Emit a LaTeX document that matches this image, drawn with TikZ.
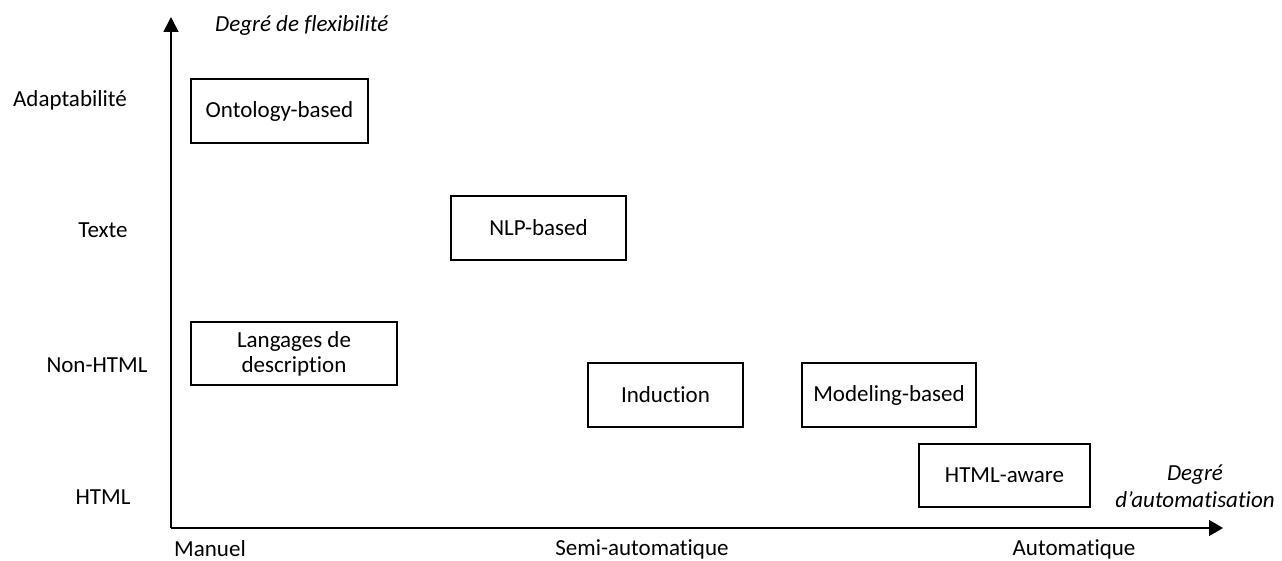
\documentclass[tikz,border=0pt]{standalone}
\usepackage{fontspec}
\setmainfont{Carlito}[Ligatures=NoCommon]
\usetikzlibrary{arrows.meta}
\begin{document}
\begin{tikzpicture}[x=1pt,y=-1pt,
  every node/.style={font=\fontsize{23}{25}\selectfont, inner sep=0pt},
  axis/.style={line width=1.6pt},
  catbox/.style={draw, line width=1.6pt, align=center},
  axlabel/.style={font=\fontsize{23}{27}\selectfont\itshape, align=center}]
  \useasboundingbox (0,0) rectangle (1282,561);

  % axes
  \coordinate (o) at (171,528);
  \coordinate (ytop) at (171,17);
  \coordinate (xend) at (1223,528);
  \draw[axis, -{Triangle[length=15pt,width=15pt]}] (o) -- (ytop);
  \draw[axis, -{Triangle[length=14pt,width=16pt]}] (o) -- (xend);

  % axis titles
  \node[axlabel, anchor=west] (ytitle) at (215,25) {Degré de flexibilité};
  \node[axlabel] (xtitle) at (1195,486) {Degré\\d’automatisation};

  % levels along the vertical axis
  \node (adapt) at (70,100) {Adaptabilité};
  \node (texte) at (103,230) {Texte};
  \node (nonhtml) at (97,365) {Non-HTML};
  \node (html) at (103,497) {HTML};

  % levels along the horizontal axis
  \node (manuel) at (210,549) {Manuel};
  \node (semi) at (642,549) {Semi-automatique};
  \node (auto) at (1074,549) {Automatique};

  % approaches
  \node[catbox, minimum width=177pt, minimum height=64pt] (onto) at (279.5,111) {Ontology-based};
  \node[catbox, minimum width=175pt, minimum height=64pt] (nlp) at (538.5,228) {NLP-based};
  \node[catbox, minimum width=206pt, minimum height=63pt] (lang) at (294,353.5) {Langages de\\description};
  \node[catbox, minimum width=155pt, minimum height=64pt] (induc) at (665.5,395) {Induction};
  \node[catbox, minimum width=174pt, minimum height=64pt] (model) at (889,395) {Modeling-based};
  \node[catbox, minimum width=171pt, minimum height=63pt] (htmlaware) at (1004.5,475.5) {HTML-aware};
\end{tikzpicture}
\end{document}
